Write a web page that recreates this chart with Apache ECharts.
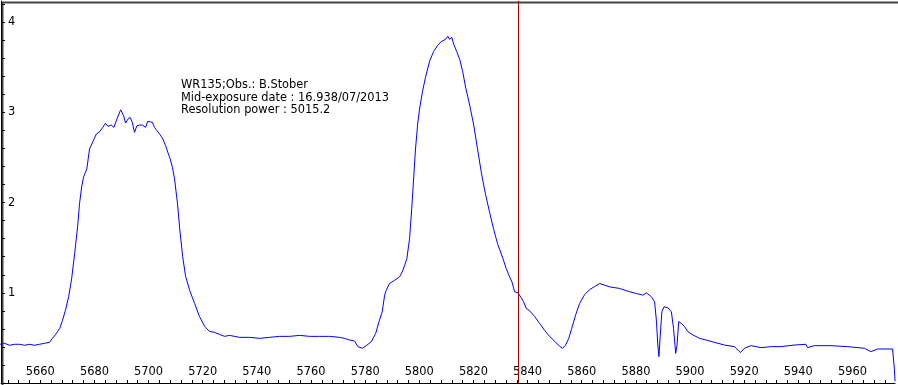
<!DOCTYPE html>
<html><head><meta charset="utf-8">
<script src="https://cdn.jsdelivr.net/npm/echarts@6/dist/echarts.min.js"></script>
<style>html,body{margin:0;padding:0;background:#fff}#c{width:898px;height:385px}</style>
</head><body><div id="c"></div>
<script>
const wavelength = [5645.0,5646.8,5648.7,5650.5,5652.4,5654.2,5656.0,5657.9,5659.7,5661.6,5663.4,5664.5,5665.7,5667.2,5668.2,5669.3,5670.5,5671.6,5672.7,5673.8,5674.5,5675.3,5676.0,5677.2,5678.2,5679.4,5680.7,5681.9,5683.1,5684.1,5685.0,5686.2,5687.2,5688.3,5689.7,5690.8,5691.5,5692.4,5693.2,5694.0,5694.8,5695.7,5696.7,5697.7,5698.9,5699.7,5700.4,5701.4,5702.2,5703.1,5704.1,5705.3,5706.3,5707.1,5708.0,5708.8,5709.6,5710.7,5711.5,5712.6,5713.7,5715.2,5717.0,5718.8,5720.7,5722.5,5724.4,5726.2,5728.1,5729.9,5733.6,5737.3,5741.0,5744.7,5748.4,5752.1,5755.8,5759.5,5763.2,5766.9,5770.6,5772.4,5774.3,5776.1,5777.3,5778.9,5780.4,5782.3,5783.9,5785.1,5786.3,5787.2,5787.8,5789.0,5790.9,5792.7,5793.7,5794.6,5795.4,5796.4,5797.2,5797.9,5798.6,5799.4,5800.1,5801.2,5802.3,5803.8,5805.3,5806.8,5808.2,5809.7,5810.5,5811.2,5812.0,5812.7,5813.8,5814.9,5816.0,5817.1,5818.6,5820.1,5821.5,5823.0,5824.5,5826.0,5827.4,5828.9,5830.9,5832.1,5833.1,5834.3,5835.2,5836.4,5837.7,5838.5,5839.5,5840.5,5842.6,5844.4,5846.3,5848.1,5850.0,5851.8,5852.9,5854.0,5855.2,5856.3,5857.8,5859.2,5861.1,5862.9,5864.8,5866.6,5870.3,5874.0,5877.7,5880.2,5882.6,5883.9,5885.7,5886.9,5887.6,5888.1,5888.5,5889.0,5889.6,5890.4,5891.8,5893.1,5893.9,5894.7,5895.2,5895.8,5896.8,5898.0,5899.2,5901.1,5903.5,5906.0,5909.0,5912.7,5916.4,5918.6,5920.1,5922.5,5926.2,5929.9,5933.6,5938.5,5942.8,5943.4,5945.9,5952.0,5958.2,5964.4,5966.8,5969.3,5974.8,5975.5,5975.7];
const flux = [0.429,0.440,0.418,0.429,0.429,0.418,0.429,0.418,0.429,0.440,0.451,0.495,0.539,0.606,0.694,0.804,0.959,1.158,1.434,1.733,1.987,2.175,2.285,2.374,2.595,2.672,2.760,2.786,2.834,2.879,2.845,2.860,2.834,2.926,3.029,2.963,2.882,2.926,2.945,2.890,2.779,2.852,2.860,2.860,2.834,2.901,2.915,2.890,2.834,2.797,2.760,2.705,2.631,2.558,2.484,2.392,2.263,1.987,1.711,1.401,1.180,1.025,0.882,0.738,0.628,0.572,0.561,0.539,0.517,0.528,0.506,0.506,0.495,0.506,0.517,0.517,0.528,0.517,0.517,0.517,0.506,0.495,0.476,0.465,0.403,0.385,0.414,0.459,0.550,0.680,0.790,0.974,1.029,1.103,1.139,1.177,1.232,1.305,1.379,1.600,1.932,2.263,2.595,2.871,3.037,3.235,3.390,3.567,3.677,3.744,3.788,3.810,3.843,3.810,3.832,3.755,3.677,3.589,3.456,3.280,3.081,2.860,2.595,2.318,2.086,1.887,1.711,1.545,1.379,1.269,1.195,1.114,1.011,1.000,0.945,0.901,0.827,0.808,0.738,0.662,0.583,0.517,0.462,0.407,0.385,0.418,0.495,0.606,0.760,0.882,0.981,1.036,1.070,1.103,1.066,1.048,1.011,0.992,0.974,1.000,0.956,0.901,0.683,0.421,0.293,0.532,0.790,0.845,0.834,0.790,0.606,0.329,0.421,0.680,0.661,0.624,0.569,0.532,0.495,0.476,0.451,0.421,0.403,0.337,0.385,0.414,0.392,0.403,0.403,0.421,0.429,0.392,0.414,0.414,0.403,0.385,0.348,0.377,0.377,0.145,0.020];
const xTickLabels = [5660,5680,5700,5720,5740,5760,5780,5800,5820,5840,5860,5880,5900,5920,5940,5960];
const yTickLabels = [1,2,3,4];
const markerWavelength = 5836.7;
const annotation = ['WR135;Obs.: B.Stober','Mid-exposure date : 16.938/07/2013','Resolution power : 5015.2'];

const xMinor = []; for (let v = 5648; v <= 5972; v += 4) xMinor.push(v);
const yMinor = []; for (let i = 1; i <= 21; i++) yMinor.push(+(i*0.2).toFixed(1));

const FONT = 'DejaVu Sans';
const chart = echarts.init(document.getElementById('c'), null, {renderer:'canvas'});
chart.setOption({
  animation:false,
  backgroundColor:'#ffffff',
  grid:{left:1,right:3,top:1,bottom:2,containLabel:false},
  xAxis:{type:'value',min:5645.5,max:5975.7,
    axisLine:{show:true,onZero:false,lineStyle:{color:'#000',width:1}},
    axisTick:{show:true,inside:true,length:3,customValues:xMinor,lineStyle:{color:'#000'}},
    axisLabel:{show:true,inside:true,margin:5,customValues:xTickLabels,formatter:v=>String(v),color:'#000',fontFamily:FONT,fontSize:11.4},
    splitLine:{show:false}},
  yAxis:{type:'value',min:0,max:4.235,
    axisLine:{show:true,onZero:false,lineStyle:{color:'#000',width:1}},
    axisTick:{show:true,inside:true,length:4,customValues:yMinor,lineStyle:{color:'#000'}},
    axisLabel:{show:true,inside:true,margin:7,customValues:yTickLabels,formatter:v=>String(v),color:'#000',fontFamily:FONT,fontSize:11.4,align:'left'},
    splitLine:{show:false}},
  series:[{type:'line',data:wavelength.map((w,i)=>[w,flux[i]]),showSymbol:false,symbol:'none',
    lineStyle:{color:'#0000ff',width:1},
    markLine:{silent:true,symbol:['none','none'],label:{show:false},
      lineStyle:{color:'#a00000',width:1,type:'solid'},data:[{xAxis:markerWavelength}]}}],
  graphic:[
    {type:'text',left:181,top:79,style:{text:annotation.join('\n'),font:'11.4px "DejaVu Sans"',lineHeight:12.5,fill:'#000'}},
    {type:'rect',left:0,top:0,shape:{width:897,height:384},style:{fill:'none',stroke:'#444',lineWidth:2}}
  ]
});
</script></body></html>
